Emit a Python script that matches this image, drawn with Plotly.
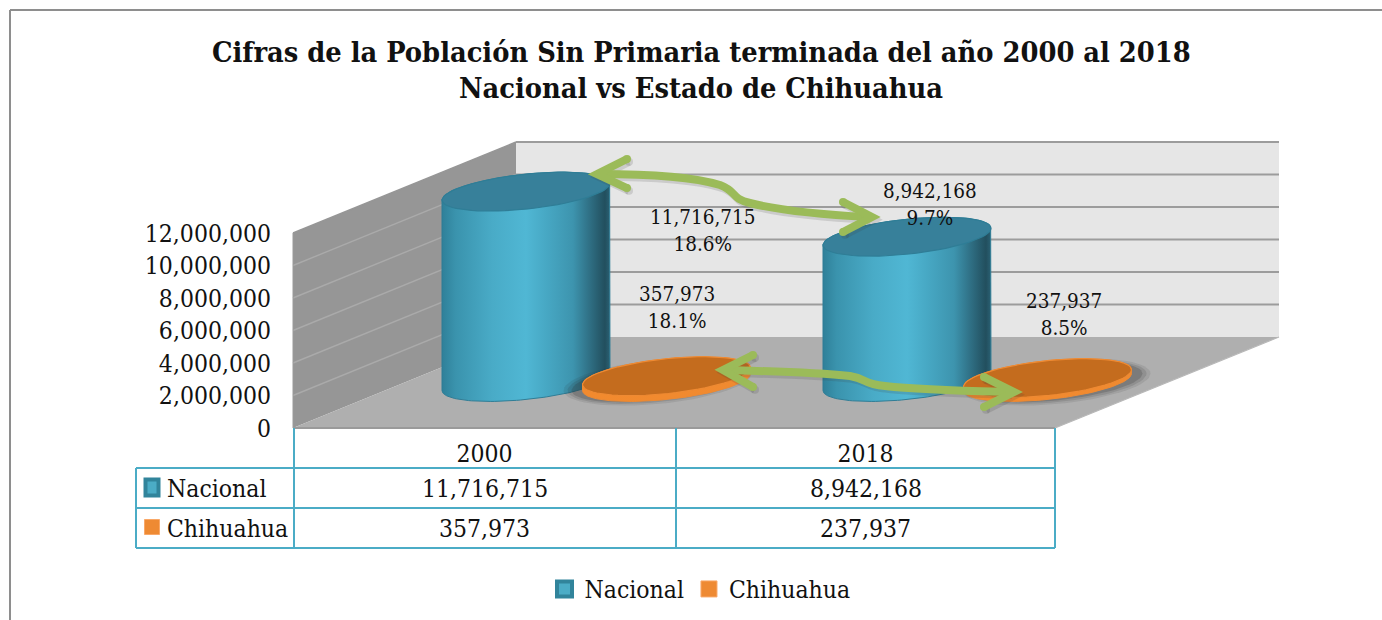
import numpy as np
import plotly.graph_objects as go

# ---------- data ----------
categories = ["2000", "2018"]
nacional = [11716715, 8942168]
chihuahua = [357973, 237937]
pct_nacional = ["18.6%", "9.7%"]
pct_chihuahua = ["18.1%", "8.5%"]
tick_values = [0, 2000000, 4000000, 6000000, 8000000, 10000000, 12000000]
title_lines = ["Cifras de la Población Sin Primaria terminada del año 2000 al 2018",
               "Nacional vs Estado de Chihuahua"]

# ---------- geometry / style ----------
W, H = 1382, 620
PX_PER_UNIT = 195 / 12000000      # px per person on the value axis
ZERO_PY = 428
CAT_PX = 381
CAT0_PX = 484.5
FONT = "DejaVu Serif Condensed"
INK = "#111111"
TABLE = "#4bacc6"
GREEN = "#9bbb59"
TEXT_SIZE = 24.5

def fx(px): return px / W
def fy(py): return 1 - py / H
def dx(px): return (px - CAT0_PX) / CAT_PX          # pixel -> category units
def dv(px): return px / PX_PER_UNIT                 # pixel height -> value units

DEPTH_X = 41.5        # cylinder centre relative to category centre
SERIES_GAP = 140.5    # second series to the right
DEPTH_Y = 46          # base centre above the front floor edge
A, B, S = 84, 17.5, 8.5  # tilted ellipse

fig = go.Figure()

def arc(cat, series, value, t0, t1, a=A, b=B, s=S, shift=0, n=70):
    t = np.linspace(t0, t1, n)
    x = cat + (DEPTH_X + SERIES_GAP * series + shift + a * np.cos(t)) / CAT_PX
    y = value + dv(DEPTH_Y + b * np.sin(t) + s * np.cos(t))
    return x, y

def poly(x, y, name, **kw):
    fig.add_trace(go.Scatter(x=list(x), y=list(y), mode="lines", fill="toself", name=name,
                             showlegend=False, hoverinfo="skip", **kw))

def column(cat, series, value, name, side_scale, top, rim):
    xb, yb = arc(cat, series, 0, np.pi, 2 * np.pi)
    xt, yt = arc(cat, series, value, 0, np.pi)
    poly(np.r_[xb, xt, xb[0]], np.r_[yb, yt, yb[0]], name,
         line=dict(color=rim, width=1),
         fillgradient=dict(type="horizontal", colorscale=side_scale))
    xe, ye = arc(cat, series, value, 0, 2 * np.pi)
    poly(xe, ye, name, line=dict(color=rim, width=1.2), fillcolor=top)

blue_side = [[0, "#2f8099"], [0.08, "#3a93ad"], [0.3, "#49abc7"], [0.5, "#50b7d4"],
             [0.62, "#47a8c4"], [0.78, "#3d94ae"], [0.88, "#2f6f84"], [0.97, "#224f5e"], [1, "#2a6174"]]
orange_side = [[0, "#f28a2e"], [1, "#f08a30"]]

for i in range(len(categories)):
    column(i, 0, nacional[i], "Nacional", blue_side, "#37809a", "#2f7d96")

shadow_shift = [-9, 9]
for i in range(len(categories)):
    for grow, alpha in [(10, .10), (6, .14), (2, .20)]:
        x, y = arc(i, 1, 0, 0, 2 * np.pi, a=A + grow, b=B + grow * .45, shift=shadow_shift[i])
        poly(x, y, "Chihuahua", line=dict(width=0), fillcolor=f"rgba(40,40,40,{alpha})")
    column(i, 1, chihuahua[i], "Chihuahua", orange_side, "#c46c1e", "#ee8a33")

# legend keys
fig.add_trace(go.Scatter(x=[None], y=[None], mode="markers", name="Nacional",
                         marker=dict(symbol="square", size=15, color="#4bacc6",
                                     line=dict(color="#31849b", width=4))))
fig.add_trace(go.Scatter(x=[None], y=[None], mode="markers", name="Chihuahua",
                         marker=dict(symbol="square", size=16, color="#ee8a33",
                                     line=dict(color="#f9a868", width=1))))

# ---------- chart walls ----------
shapes = []
def pshape(pts, fill, line=None, width=0, layer="below"):
    path = "M " + " L ".join(f"{fx(a):.5f} {fy(b):.5f}" for a, b in pts) + " Z"
    shapes.append(dict(type="path", xref="paper", yref="paper", path=path, fillcolor=fill,
                       line=dict(color=line or fill, width=width), layer=layer))
def seg(x0, y0, x1, y1, color, width, layer="below"):
    shapes.append(dict(type="line", xref="paper", yref="paper", x0=fx(x0), y0=fy(y0), x1=fx(x1), y1=fy(y1),
                       line=dict(color=color, width=width), layer=layer))

pshape([(516, 142), (1279, 142), (1279, 337), (516, 337)], "#e6e6e6")
pshape([(293, 233), (516, 142), (516, 337), (293, 428)], "#969696")
pshape([(293, 428), (1055, 428), (1279, 337), (516, 337)], "#afafaf")
for k in range(1, 7):
    off = 32.5 * k
    seg(516, 337 - off, 1279, 337 - off, "#9c9c9c", 2)
    seg(293, 428 - off, 516, 337 - off, "#aaaaaa" if k < 6 else "#969696", 1.4)
seg(293, 428, 1055, 428, "#9a9a9a", 2)
seg(1055, 428, 1279, 337, "#b8b8b8", 1.2)
seg(293, 233, 293, 428, "#9a9a9a", 1)

# outer frame
seg(10, 10, W, 10, "#8e8e8e", 2)
seg(10, 10, 10, H, "#8e8e8e", 2)

# data table
for yy in (468, 508, 548):
    seg(136, yy, 1055, yy, TABLE, 2, "above")
seg(136, 468, 136, 548, TABLE, 2, "above")
seg(294, 428, 294, 548, TABLE, 2, "above")
seg(676, 428, 676, 548, TABLE, 2, "above")
seg(1055, 428, 1055, 548, TABLE, 2, "above")

# table keys
def rect(x0, y0, x1, y1, fill, line, w, kind="rect"):
    shapes.append(dict(type=kind, xref="paper", yref="paper", x0=fx(x0), x1=fx(x1), y0=fy(y0), y1=fy(y1),
                       fillcolor=fill, line=dict(color=line, width=w), layer="above"))
rect(145.5, 479.5, 158.5, 495.5, "#4bacc6", "#31849b", 4)
rect(144.5, 519.5, 159.5, 534.5, "#ee8a33", "#f9a868", 1)

# ---------- curved arrows ----------
ARROW_W = 8
def P(x, y, o=0): return f"{fx(x + o):.5f} {fy(y + o * 1.4):.5f}"

def arrow(curves, barbs, o, color, width):
    d = "M " + P(*curves[0], o)
    for c in curves[1:]:
        d += " C " + " ".join(P(*q, o) for q in c)
    shapes.append(dict(type="path", xref="paper", yref="paper", path=d, layer="above",
                       line=dict(color=color, width=width)))
    for b in barbs:
        shapes.append(dict(type="path", xref="paper", yref="paper", layer="above",
                           path="M " + " L ".join(P(*q, o) for q in b),
                           line=dict(color=color, width=width)))
        for q in (b[0], b[2]):
            r = width / 2
            rect(q[0] + o - r, q[1] + o * 1.4 - r, q[0] + o + r, q[1] + o * 1.4 + r, color, color, 0, "circle")

arrow_data = [
    ([(598, 174),
      [(640, 174), (690, 176), (720, 185)],
      [(738, 192), (730, 198), (750, 203)],
      [(785, 212), (830, 215), (868, 217)]],
     [[(627, 159), (597, 174), (627, 188)], [(843, 202), (872, 217), (843, 232)]]),
    ([(724, 370),
      [(760, 371), (810, 372), (850, 376)],
      [(868, 379), (862, 384), (885, 386)],
      [(920, 390), (970, 391), (1010, 392)]],
     [[(753, 355), (723, 370), (753, 387)], [(984, 377), (1014, 392), (984, 407)]]),
]
for curves, barbs in arrow_data:
    arrow(curves, barbs, 2, "rgba(60,60,60,0.16)", ARROW_W)
for curves, barbs in arrow_data:
    arrow(curves, barbs, 0, GREEN, ARROW_W)

# ---------- text ----------
ann = []
def text(x, y, s, size=TEXT_SIZE, anchor="center", xref="paper"):
    ann.append(dict(xref=xref, yref="paper", x=x if xref != "paper" else fx(x), y=fy(y), text=s, showarrow=False,
                    xanchor=anchor, yanchor="middle", align="center",
                    font=dict(family=FONT, size=size, color=INK)))

text(165, 488, "Nacional", anchor="left")
text(165, 528, "Chihuahua", anchor="left")
for i in range(len(categories)):
    text(i, 488, f"{nacional[i]:,}", xref="x")
    text(i, 528, f"{chihuahua[i]:,}", xref="x")

label_pos_n = [(703, 230), (930, 204)]
label_pos_c = [(677, 307), (1064, 314)]
for i in range(len(categories)):
    text(*label_pos_n[i], f"{nacional[i]:,}<br>{pct_nacional[i]}", size=20.5)
    text(*label_pos_c[i], f"{chihuahua[i]:,}<br>{pct_chihuahua[i]}", size=20.5)

text(701, 52, f"<b>{title_lines[0]}</b>", size=28.7)
text(701, 88, f"<b>{title_lines[1]}</b>", size=28.7)

fig.update_layout(
    width=W, height=H, margin=dict(l=0, r=0, t=0, b=0),
    paper_bgcolor="white", plot_bgcolor="rgba(0,0,0,0)",
    shapes=shapes, annotations=ann,
    showlegend=True,
    legend=dict(orientation="h", x=fx(700), xanchor="center", y=fy(589), yanchor="middle",
                font=dict(family=FONT, size=TEXT_SIZE, color=INK), bgcolor="rgba(0,0,0,0)",
                itemwidth=30, itemclick=False, itemdoubleclick=False, traceorder="normal"),
    xaxis=dict(domain=[0, 1], range=[dx(0), dx(W)], anchor="free", position=fy(ZERO_PY),
               tickmode="array", tickvals=list(range(len(categories))), ticktext=categories,
               showgrid=False, zeroline=False, showline=False, ticks="", ticklabelstandoff=8,
               tickfont=dict(family=FONT, size=TEXT_SIZE, color=INK)),
    yaxis=dict(domain=[0, 1], range=[dv(ZERO_PY - H), dv(ZERO_PY)], anchor="free", position=fx(293),
               tickmode="array", tickvals=tick_values, tickformat=",d",
               showgrid=False, zeroline=False, showline=False, ticks="", ticklabelstandoff=22,
               tickfont=dict(family=FONT, size=TEXT_SIZE, color=INK)),
)

fig.write_html("out.html", config={"displayModeBar": False},
               post_script="document.body.style.margin='0';document.body.style.overflow='hidden';")
